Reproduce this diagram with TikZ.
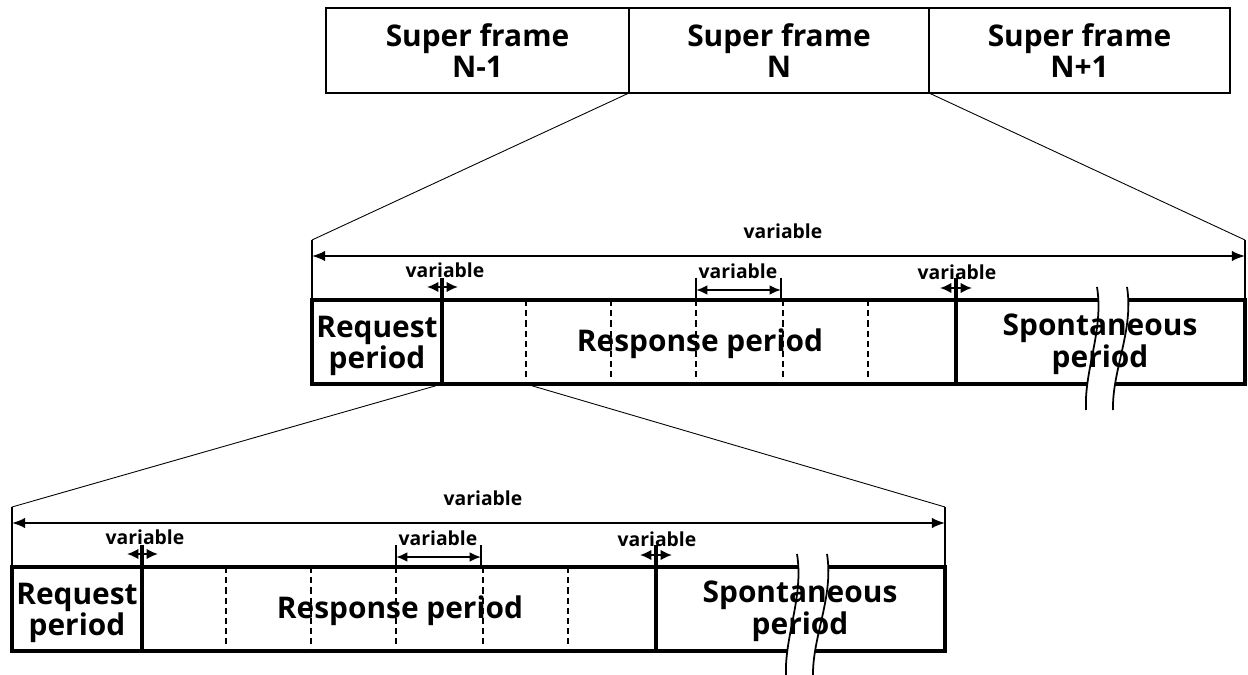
\documentclass[tikz,border=0pt]{standalone}
\usepackage{fontspec}
\setmainfont{Open Sans}
\usetikzlibrary{arrows.meta}

\tikzset{
  lbl/.style={font=\bfseries\fontsize{17}{15.5}\selectfont, align=center, inner sep=0pt},
  var/.style={font=\bfseries\fontsize{11}{12}\selectfont, inner sep=0pt},
  frame/.style={draw, line width=1.6pt, inner sep=0pt, outer sep=0pt, align=center,
    minimum height=1.7cm, font=\bfseries\fontsize{17}{15.5}\selectfont},
  border/.style={line width=1.9pt},
  divider/.style={line width=2.6pt},
  sepline/.style={line width=1.3pt, dash pattern=on 3.5pt off 2.3pt},
  tick/.style={line width=1.1pt},
  span/.style={line width=1.1pt, {Latex[length=7.5pt,width=6pt]}-{Latex[length=7.5pt,width=6pt]}},
  small/.style={line width=1.1pt, {Latex[length=6.5pt,width=6pt]}-{Latex[length=6.5pt,width=6pt]}},
  link/.style={line width=0.5pt},
  breakline/.style={line width=1pt},
  % one super frame drawn in detail: request, response and spontaneous periods
  level/.pic={
    \coordinate (-tl) at (0,-60);
    \coordinate (-tr) at (933,-60);
    \coordinate (-rb1) at (130,84);
    \coordinate (-rb2) at (214,84);
    % outline and slot boundaries
    \draw[border] (0,0) rectangle (933,84);
    \draw[divider] (130,-22) -- (130,84);
    \draw[divider] (644,-22) -- (644,84);
    \foreach \x in {214,299,384,471,556} \draw[sepline] (\x,0) -- (\x,84);
    % open break in the spontaneous period
    \fill[white] (785,-13) .. controls (792,30) and (772,70) .. (774,110)
      -- (801,110) .. controls (800,70) and (822,30) .. (815,-13) -- cycle;
    \draw[breakline] (785,-13) .. controls (792,30) and (772,70) .. (774,110);
    \draw[breakline] (815,-13) .. controls (822,30) and (800,70) .. (801,110);
    % period labels
    \node[lbl] (-req) at (65,46) {Request\\period};
    \node[lbl] (-resp) at (388,44) {Response period};
    \node[lbl] (-spon) at (788,44) {Spontaneous\\period};
    % overall length
    \draw[tick] (-tl) -- (0,0);
    \draw[tick] (-tr) -- (933,0);
    \draw[span] (0,-44) -- (933,-44);
    \node[var] (-vall) at (471,-69) {variable};
    % slot length markers
    \draw[small] (115,-13) -- (146,-13);
    \node[var] (-v1) at (133,-30) {variable};
    \draw[tick] (384,-22) -- (384,0);
    \draw[tick] (469,-22) -- (469,0);
    \draw[line width=1.1pt, {Latex[length=6.5pt,width=5.5pt]}-{Latex[length=6.5pt,width=5.5pt]}] (384,-10) -- (469,-10);
    \node[var] (-v2) at (426,-29) {variable};
    \draw[small] (628,-12) -- (660,-12);
    \node[var] (-v3) at (645,-28) {variable};
  }
}

\begin{document}
\begin{tikzpicture}[x=0.02cm, y=-0.02cm]
  \useasboundingbox (0,0) rectangle (1248,675);

  % sequence of super frames
  \node[frame, minimum width=6.06cm] (sfA) at (477.5,50.5) {Super frame\\N-1};
  \node[frame, minimum width=6.00cm] (sfN) at (779,50.5) {Super frame\\N};
  \node[frame, minimum width=6.02cm] (sfB) at (1079.5,50.5) {Super frame\\N+1};

  % super frame N in detail, then its response period in detail
  \pic (L1) at (312,300) {level};
  \pic (L2) at (12,567) {level};

  % zoom connectors
  \draw[link] (sfN.south west) -- (L1-tl);
  \draw[link] (sfN.south east) -- (L1-tr);
  \draw[link] (L1-rb1) -- (L2-tl);
  \draw[link] (L1-rb2) -- (L2-tr);
\end{tikzpicture}
\end{document}
